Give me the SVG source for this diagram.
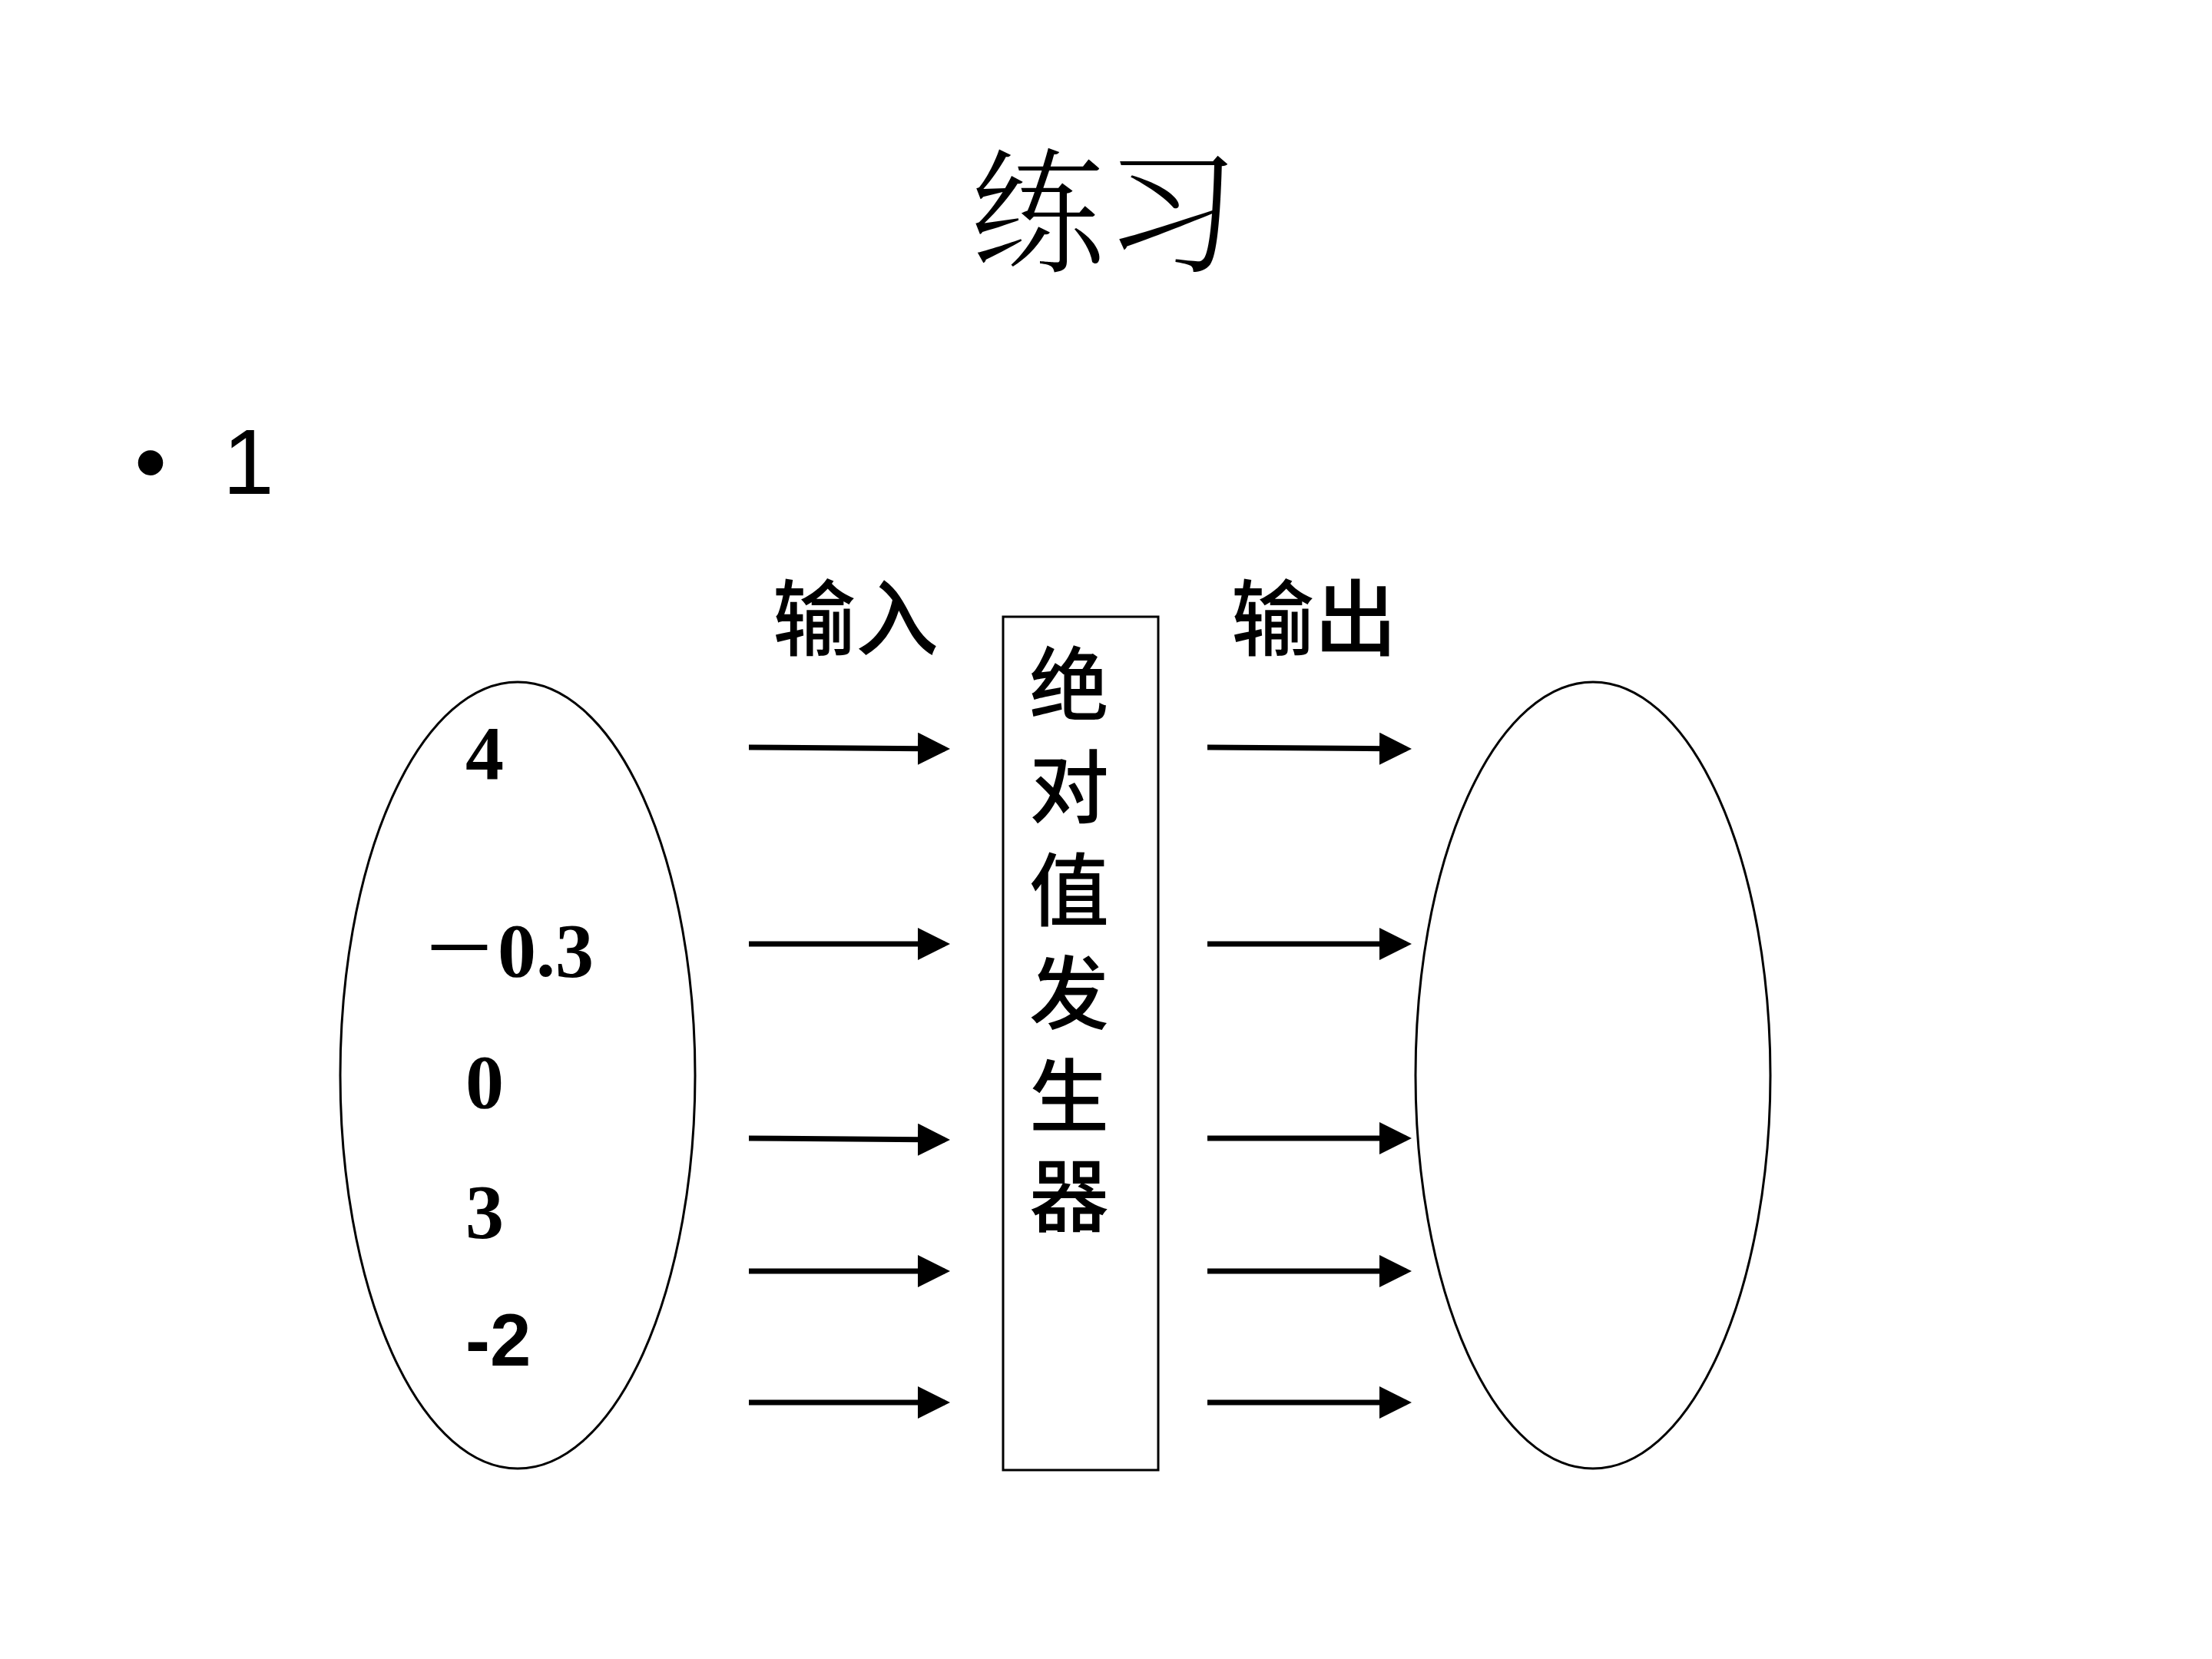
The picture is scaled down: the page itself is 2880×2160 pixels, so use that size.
<svg xmlns="http://www.w3.org/2000/svg" width="2880" height="2160" viewBox="0 0 2880 2160">
<defs>
<marker id="ah" markerWidth="6" markerHeight="6" refX="5" refY="3" orient="auto" markerUnits="strokeWidth"><path d="M0,0 L6,3 L0,6 z" fill="#000"/></marker>
<style>
.sh{fill:none;stroke:#000;stroke-width:3}
.ar{stroke:#000;stroke-width:7;marker-end:url(#ah)}
.cj{font-family:"Noto Sans CJK SC",sans-serif;fill:#000}
.num{font-family:"Liberation Serif",serif;font-weight:bold;font-size:100px}
</style>
</defs>
<rect width="2880" height="2160" fill="#fff"/>
<text x="1438" y="340" text-anchor="middle" font-size="175" font-family="'Noto Serif CJK SC','Noto Sans CJK SC',serif" font-weight="300">练习</text>
<text x="175" y="643" font-size="120" font-family="Liberation Sans,sans-serif">•</text>
<text x="290" y="643" font-size="120" font-family="Liberation Sans,sans-serif">1</text>
<g id="input-set"><ellipse class="sh" cx="674" cy="1400" rx="231" ry="512"/>
<text class="num" x="606" y="1014">4</text>
<text class="num" x="548" y="1271"><tspan font-family="Noto Sans CJK SC,sans-serif" font-weight="normal">－</tspan>0.3</text>
<text class="num" x="606" y="1442">0</text>
<text class="num" x="606" y="1611">3</text>
<text x="606" y="1778" font-family="Liberation Sans,sans-serif" font-weight="bold" font-size="96">-2</text></g>
<g id="output-set"><ellipse class="sh" cx="2074" cy="1400" rx="231" ry="512"/></g>
<g id="generator"><rect class="sh" x="1306" y="803" width="202" height="1111"/>
<g class="cj" font-size="104" text-anchor="middle" font-weight="500">
<text x="1392" y="930">绝</text><text x="1392" y="1064">对</text><text x="1392" y="1198">值</text><text x="1392" y="1332">发</text><text x="1392" y="1466">生</text><text x="1392" y="1596">器</text></g></g>
<text class="cj" x="1006" y="845" font-size="108" font-weight="500">输入</text>
<text class="cj" x="1603" y="845" font-size="108" font-weight="500">输出</text>
<g id="connectors">
<line class="ar" x1="975" y1="973" x2="1230" y2="975"/>
<line class="ar" x1="975" y1="1229" x2="1230" y2="1229"/>
<line class="ar" x1="975" y1="1482" x2="1230" y2="1484"/>
<line class="ar" x1="975" y1="1655" x2="1230" y2="1655"/>
<line class="ar" x1="975" y1="1826" x2="1230" y2="1826"/>
<line class="ar" x1="1572" y1="973" x2="1831" y2="975"/>
<line class="ar" x1="1572" y1="1229" x2="1831" y2="1229"/>
<line class="ar" x1="1572" y1="1482" x2="1831" y2="1482"/>
<line class="ar" x1="1572" y1="1655" x2="1831" y2="1655"/>
<line class="ar" x1="1572" y1="1826" x2="1831" y2="1826"/>
</g>
</svg>
